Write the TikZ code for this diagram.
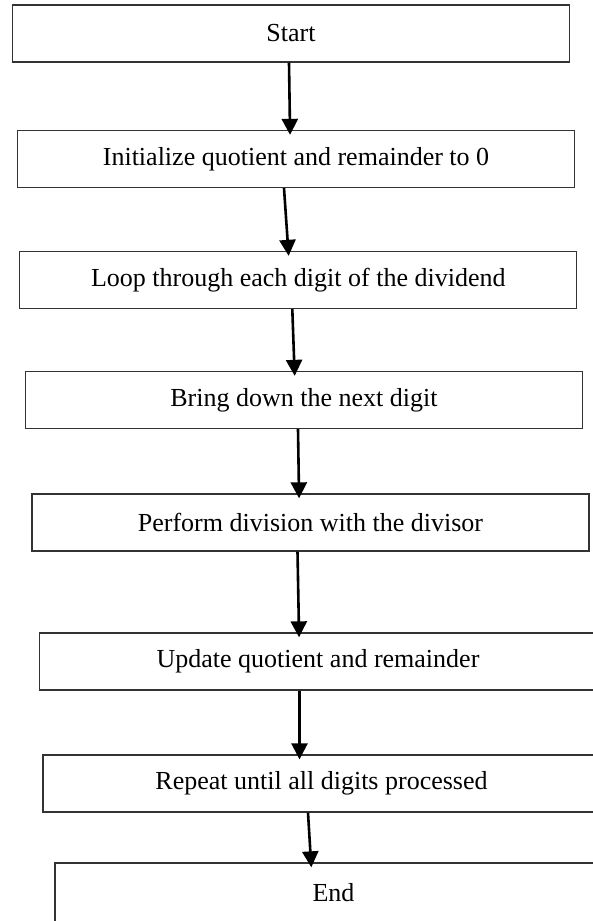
\documentclass[tikz,border=0pt]{standalone}
\usepackage{fontspec}
\setmainfont{Liberation Serif}
\usepackage{tikz}
\usetikzlibrary{arrows.meta}

\begin{document}
\begin{tikzpicture}[
            x=1pt, y=-1pt,
            stepbox/.style={rectangle,draw=black!80,line width=1.3pt,fill=white,inner sep=0pt,
                minimum width=557pt,minimum height=57pt,font=\fontsize{26}{30}\selectfont},
            flow/.style={line width=2.6pt,-{Triangle[length=16pt,width=16pt]},shorten >=-5pt},
        ]
            \useasboundingbox (0,0) rectangle (592,921);

            %--- Steps (each box a little further right) ---%
            \node[stepbox] (start)  at (291,33.5)  {Start};
            \node[stepbox] (init)   at (296,159)   {Initialize quotient and remainder to 0};
            \node[stepbox] (loop)   at (298.3,280) {Loop through each digit of the dividend};
            \node[stepbox] (bring)  at (304,400)   {Bring down the next digit};
            \node[stepbox] (divide) at (310.5,522.5) {Perform division with the divisor};
            \node[stepbox] (update) at (318,661.5) {Update quotient and remainder};
            \node[stepbox] (repeat) at (321.5,783.5) {Repeat until all digits processed};
            \node[stepbox,minimum height=60pt] (stop) at (333.5,893) {End};

            %--- Flow arrows (slightly slanted) ---%
            \draw[flow] ([xshift=-2pt]start.south)   -- ([xshift=-6pt]init.north);
            \draw[flow] ([xshift=-12pt]init.south)   -- ([xshift=-10pt]loop.north);
            \draw[flow] ([xshift=-6pt]loop.south)    -- ([xshift=-9.5pt]bring.north);
            \draw[flow] ([xshift=-6pt]bring.south)   -- ([xshift=-11.5pt]divide.north);
            \draw[flow] ([xshift=-13pt]divide.south) -- ([xshift=-19pt]update.north);
            \draw[flow] ([xshift=-18.5pt]update.south) -- ([xshift=-22pt]repeat.north);
            \draw[flow] ([xshift=-13.5pt]repeat.south) -- ([xshift=-22.5pt]stop.north);

        \end{tikzpicture}
\end{document}
